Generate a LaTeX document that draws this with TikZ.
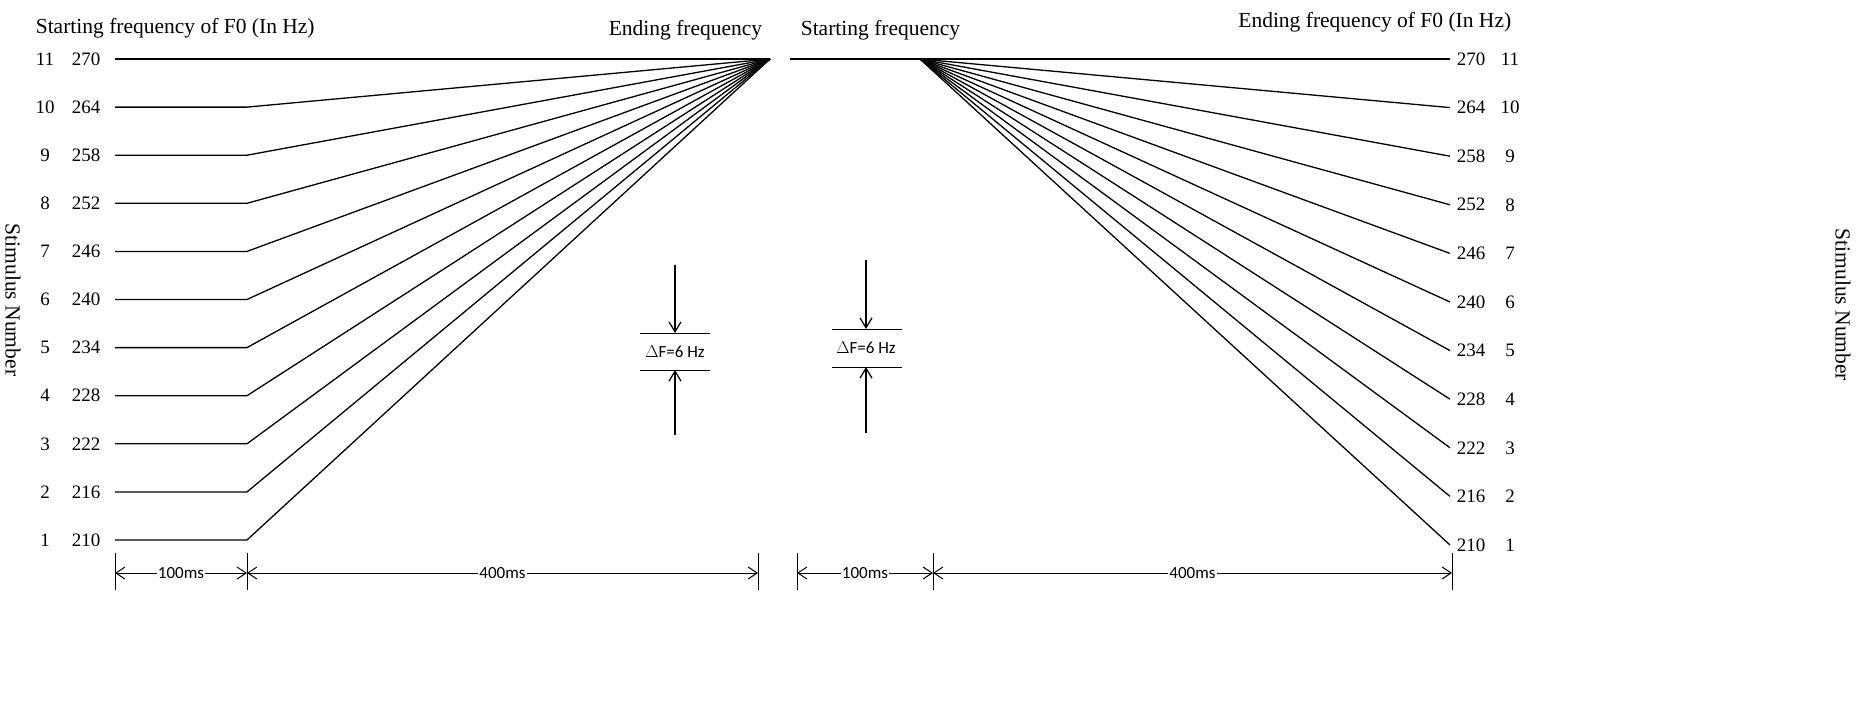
\documentclass[tikz,border=0pt]{standalone}
\usepackage{fontspec}
\setmainfont{Liberation Serif}
\newfontfamily\labelfont{Carlito}
\usetikzlibrary{positioning,arrows.meta}

\begin{document}
\begin{tikzpicture}[x=1pt, y=-1pt, line width=1.6pt, font=\fontsize{19}{22}\selectfont,
	num/.style={inner sep=0pt, anchor=center},
	title/.style={inner sep=0pt, font=\fontsize{21.5}{24}\selectfont},
	dim/.style={line width=1pt, {Straight Barb[length=9pt,width=12pt]}-{Straight Barb[length=9pt,width=12pt]}},
	tick/.style={line width=1pt},
	delta/.style={line width=1.2pt, -{Straight Barb[length=10pt,width=12pt]}},
	ms/.style={fill=white, inner sep=1pt, font=\labelfont\fontsize{17}{19}\selectfont}]
	\useasboundingbox (0,0) rectangle (1856,701);

	% left panel
	\node[title, anchor=west] (tl) at (35,28) {Starting frequency of F0 (In Hz)};
	\node[title, anchor=east] (el) at (763,30) {Ending frequency};
	\coordinate (L) at (770,59);
	\foreach \i/\f in {1/210,2/216,3/222,4/228,5/234,6/240,7/246,8/252,9/258,10/264,11/270}{
		\pgfmathsetmacro\yy{540-(\i-1)*48.1}
		\node[num] (ln\i) at (45,\yy) {\i};
		\node[num] (lf\i) at (86,\yy) {\f};
		\coordinate (ls\i) at (115,\yy);
		\coordinate (lk\i) at (247,\yy);
	}
	\draw (ls11) -- (L);
	\foreach \i in {1,...,10}{
		\draw[line width=1.3pt] (ls\i) -- (lk\i) -- (L);
	}
	\node[title, rotate=-90] (sl) at (13,300) {Stimulus Number};

	% right panel
	\node[title, anchor=west] (tr) at (800,30) {Starting frequency};
	\node[title, anchor=east] (er) at (1512,22) {Ending frequency of F0 (In Hz)};
	\coordinate (R) at (920,59);
	\foreach \i/\f in {1/210,2/216,3/222,4/228,5/234,6/240,7/246,8/252,9/258,10/264,11/270}{
		\pgfmathsetmacro\yy{545-(\i-1)*48.6}
		\node[num] (rf\i) at (1471,\yy) {\f};
		\node[num] (rn\i) at (1510,\yy) {\i};
		\coordinate (re\i) at (1450,\yy);
	}
	\coordinate (rs) at (790,59);
	\draw (rs) -- (re11);
	\foreach \i in {1,...,10}{
		\draw[line width=1.3pt] (R) -- (re\i);
	}
	\node[title, rotate=-90] (sr) at (1843,305) {Stimulus Number};

	% delta F
	\coordinate (da) at (675,265); \coordinate (db) at (675,333);
	\coordinate (dc) at (675,370); \coordinate (dd) at (675,435);
	\draw[tick] (640,333) -- (710,333);
	\draw[tick] (640,370) -- (710,370);
	\draw[delta] (da) -- (db);
	\draw[delta] (dd) -- (dc);
	\node[ms, fill=none] (dl) at (675,352) {$\Delta$F=6 Hz};
	\coordinate (ea) at (866,260); \coordinate (eb) at (866,329);
	\coordinate (ec) at (866,367); \coordinate (ed) at (866,433);
	\draw[tick] (832,329) -- (902,329);
	\draw[tick] (832,367) -- (902,367);
	\draw[delta] (ea) -- (eb);
	\draw[delta] (ed) -- (ec);
	\node[ms, fill=none] (dr) at (866,348) {$\Delta$F=6 Hz};

	% time scale
	\foreach \x in {115,247,758,797,933,1452}{
		\draw[tick] (\x,553) -- (\x,590);
	}
	\draw[dim] (115,573) -- node[ms] (t1) {100ms} (247,573);
	\draw[dim] (247,573) -- node[ms] (t2) {400ms} (758,573);
	\draw[dim] (797,573) -- node[ms] (t3) {100ms} (933,573);
	\draw[dim] (933,573) -- node[ms] (t4) {400ms} (1452,573);
\end{tikzpicture}
\end{document}
